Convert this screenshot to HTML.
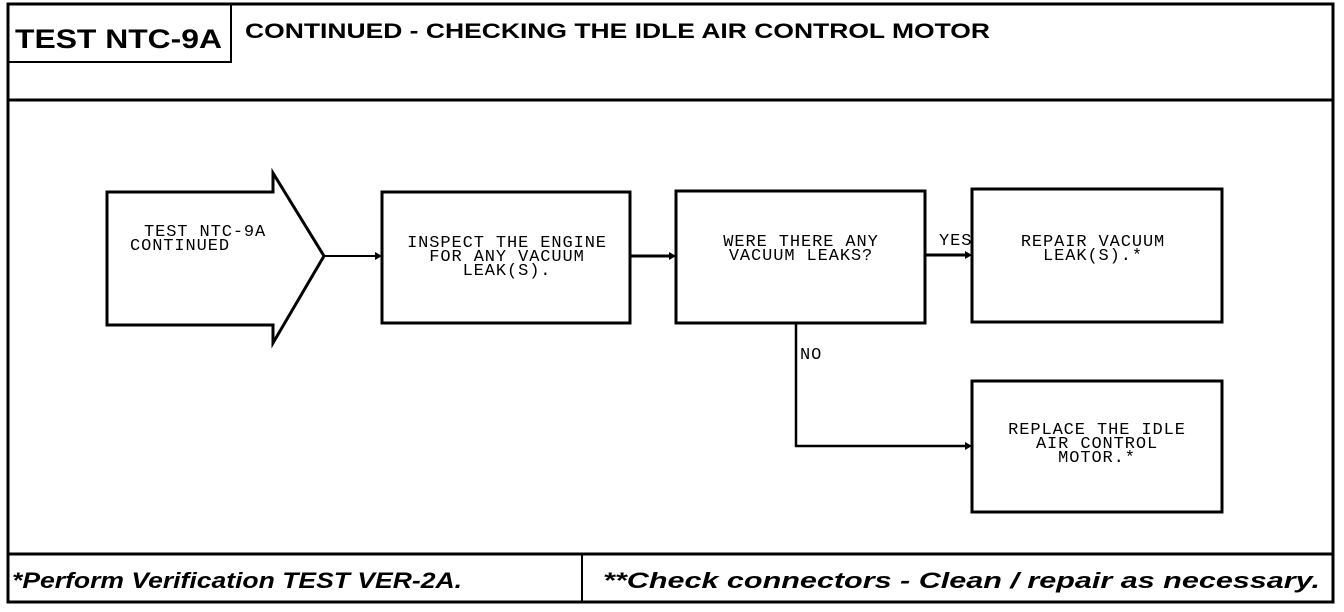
<!DOCTYPE html>
<html><head><meta charset="utf-8"><style>
body{margin:0;background:#fff;}
svg{display:block}
.m{font-family:"Liberation Mono",monospace;font-size:17px;letter-spacing:0.9px;fill:#000}
.h{font-family:"Liberation Sans",sans-serif;font-weight:bold;fill:#000}
</style></head><body>
<svg width="1344" height="612" viewBox="0 0 1344 612" xmlns="http://www.w3.org/2000/svg">
<g fill="none" stroke="#000">
<rect x="8" y="4" width="1325" height="598" stroke-width="3"/>
<line x1="8" y1="100" x2="1333" y2="100" stroke-width="3"/>
<line x1="8" y1="554" x2="1333" y2="554" stroke-width="3"/>
<line x1="582" y1="554" x2="582" y2="602" stroke-width="2"/>
<rect x="8" y="4" width="223" height="58" stroke-width="2"/>
<polygon points="107,192 273,192 273,173 324,256 273,343 273,325 107,325" stroke-width="3"/>
<rect x="382" y="192" width="248" height="131" stroke-width="3"/>
<rect x="676" y="191" width="249" height="132" stroke-width="3"/>
<rect x="972" y="189" width="250" height="133" stroke-width="3"/>
<rect x="972" y="381" width="250" height="131" stroke-width="3"/>
<line x1="324" y1="256" x2="379" y2="256" stroke-width="2"/>
<line x1="630" y1="256" x2="672" y2="256" stroke-width="3"/>
<line x1="925" y1="255" x2="968" y2="255" stroke-width="3"/>
<polyline points="796,323 796,446 968,446" stroke-width="2.5"/>
</g>
<g fill="#000">
<polygon points="382,256 375,252 375,260"/>
<polygon points="676,256 669,252 669,260"/>
<polygon points="972,255 965,251 965,259"/>
<polygon points="972,446 965,442 965,450"/>
</g>
<text class="h" x="15" y="48" font-size="27" textLength="207" lengthAdjust="spacingAndGlyphs">TEST NTC-9A</text>
<text class="h" x="245" y="38" font-size="21" textLength="745" lengthAdjust="spacingAndGlyphs">CONTINUED - CHECKING THE IDLE AIR CONTROL MOTOR</text>
<text class="h" x="12" y="588" font-size="22" font-style="italic" textLength="450" lengthAdjust="spacingAndGlyphs">*Perform Verification TEST VER-2A.</text>
<text class="h" x="603" y="588" font-size="22" font-style="italic" textLength="717" lengthAdjust="spacingAndGlyphs">**Check connectors - Clean / repair as necessary.</text>
<g class="m">
<text x="144" y="236">TEST NTC-9A</text>
<text x="130" y="250">CONTINUED</text>
<text x="507" y="247" text-anchor="middle">INSPECT THE ENGINE</text>
<text x="507" y="261" text-anchor="middle">FOR ANY VACUUM</text>
<text x="507" y="275" text-anchor="middle">LEAK(S).</text>
<text x="801" y="246" text-anchor="middle">WERE THERE ANY</text>
<text x="801" y="260" text-anchor="middle">VACUUM LEAKS?</text>
<text x="939" y="245">YES</text>
<text x="800" y="359">NO</text>
<text x="1093" y="246" text-anchor="middle">REPAIR VACUUM</text>
<text x="1093" y="260" text-anchor="middle">LEAK(S).*</text>
<text x="1097" y="434" text-anchor="middle">REPLACE THE IDLE</text>
<text x="1097" y="448" text-anchor="middle">AIR CONTROL</text>
<text x="1097" y="462" text-anchor="middle">MOTOR.*</text>
</g>
</svg>
</body></html>
